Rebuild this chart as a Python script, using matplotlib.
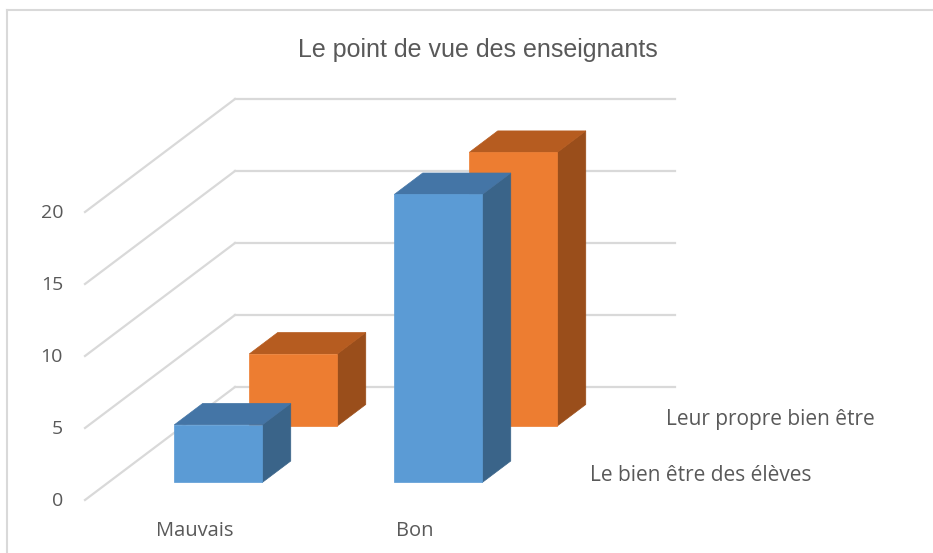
import matplotlib
matplotlib.use("Agg")
import matplotlib.pyplot as plt
from matplotlib.patches import Polygon
from matplotlib.lines import Line2D

# data
categories = ["Mauvais", "Bon"]
series_names = ["Le bien être des élèves", "Leur propre bien être"]
eleves = [4, 20]
propre = [5, 19]
yticks = [0, 5, 10, 15, 20]

front_cols = ["#5b9bd5", "#ed7d31"]
top_cols = ["#4475a6", "#b65c20"]
side_cols = ["#3a6489", "#9a4e1b"]
grid_col = "#d9d9d9"
text_col = "#595959"

W, H = 933, 553
fig = plt.figure(figsize=(W / 100, H / 100), dpi=100)
ax = fig.add_axes([0, 0, 1, 1])
ax.axis("off")

# pixel layout: one category = 220 px, one value unit = 14.4 px
cat_px, val_px = 220.0, 14.4
x0_px, y0_px = 85.0, 53.0
ax.set_xlim(-x0_px / cat_px, (W - x0_px) / cat_px)
ax.set_ylim(-y0_px / val_px, (H - y0_px) / val_px)

# depth projection (full depth of the floor)
dx = 150.0 / cat_px
dy = 113.0 / val_px
ncat = len(categories)


def proj(x, v, d):
    return (x + d * dx, v + d * dy)


# back wall and side wall gridlines
for v in yticks:
    a = proj(0, v, 1)
    b = proj(ncat, v, 1)
    ax.plot([a[0], b[0]], [a[1], b[1]], color=grid_col, lw=1.6, zorder=1)
    c = proj(0, v, 0)
    ax.plot([c[0], a[0]], [c[1], a[1]], color=grid_col, lw=1.6, zorder=1)
    ax.text(c[0] - 0.1, c[1] - 1 / val_px, str(v), ha="right", va="center",
            fontsize=14, color=text_col, family="Open Sans")

rows = [eleves, propre]
row_center = [0.25, 0.75]
bar_depth = 0.19
bar_w = 0.4

# draw back row first
for r in [1, 0]:
    d1 = row_center[r] - bar_depth / 2
    d2 = row_center[r] + bar_depth / 2
    for i, val in enumerate(rows[r]):
        xl = i + 0.5 - bar_w / 2
        xr = i + 0.5 + bar_w / 2
        front = [proj(xl, 0, d1), proj(xr, 0, d1), proj(xr, val, d1), proj(xl, val, d1)]
        top = [proj(xl, val, d1), proj(xr, val, d1), proj(xr, val, d2), proj(xl, val, d2)]
        side = [proj(xr, 0, d1), proj(xr, 0, d2), proj(xr, val, d2), proj(xr, val, d1)]
        z = 3 if r == 0 else 2
        ax.add_patch(Polygon(side, closed=True, fc=side_cols[r], ec=side_cols[r], lw=0.5, zorder=z))
        ax.add_patch(Polygon(top, closed=True, fc=top_cols[r], ec=top_cols[r], lw=0.5, zorder=z))
        ax.add_patch(Polygon(front, closed=True, fc=front_cols[r], ec=front_cols[r], lw=0.5, zorder=z))

# category labels
for i, c in enumerate(categories):
    ax.text(i + 0.5, -31 / val_px, c, ha="center", va="center",
            fontsize=14.5, color=text_col, family="Open Sans")

# series labels at the right end of the floor
for r, name in enumerate(series_names):
    p = proj(ncat, 0, row_center[r])
    ax.text(p[0] + 28 / cat_px, p[1] - 4 / val_px, name, ha="left", va="center",
            fontsize=15, color=text_col, family="Open Sans")

fig.text(478 / W, 1 - 50 / H, "Le point de vue des enseignants", ha="center", va="center",
         fontsize=18, color=text_col, family="Liberation Sans")

# chart border (top and left visible)
fig.add_artist(Line2D([7 / W, 1], [1 - 10 / H, 1 - 10 / H], color=grid_col, lw=1.5))
fig.add_artist(Line2D([7 / W, 7 / W], [0, 1 - 10 / H], color=grid_col, lw=1.5))

fig.savefig("out.png", dpi=100)
